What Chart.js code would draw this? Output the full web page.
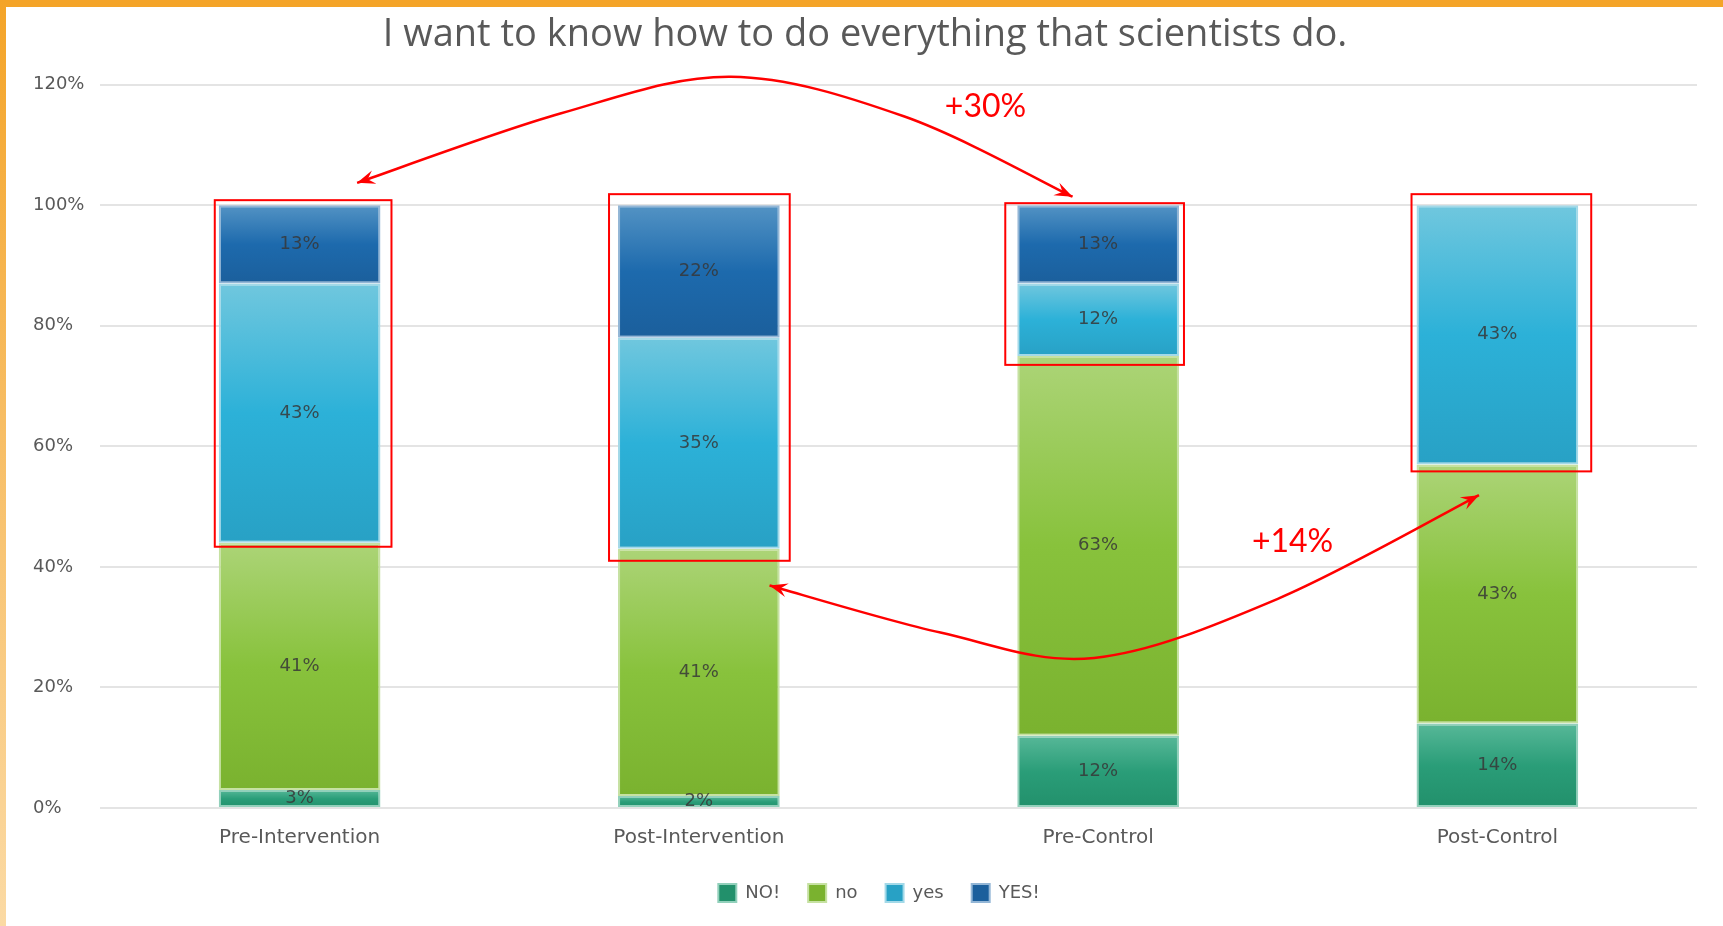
<!DOCTYPE html>
<html>
<head>
<meta charset="utf-8">
<title>Scientists survey</title>
<script src="https://cdn.jsdelivr.net/npm/chart.js@4.4.1/dist/chart.umd.min.js"></script>
<style>
  html, body { margin: 0; padding: 0; background: #fff; }
  #frame { position: relative; width: 1723px; height: 926px; overflow: hidden; background: #fff; }
  #frame .edge-top { position: absolute; left: 0; top: 0; width: 1723px; height: 7px; background: #f4a428; }
  #frame .edge-left { position: absolute; left: 0; top: 0; width: 6px; height: 926px; background: linear-gradient(#f4a428, #f7bd63 45%, #fbdaa4); }
  #chartBox { position: absolute; left: 6px; top: 7px; width: 1717px; height: 919px; }
</style>
</head>
<body>
<div id="frame">
  <div class="edge-top"></div>
  <div class="edge-left"></div>
  <div id="chartBox"><canvas id="scienceChart"></canvas></div>
</div>
<script>
const categories = ['Pre-Intervention', 'Post-Intervention', 'Pre-Control', 'Post-Control'];
const seriesNames = ['NO!', 'no', 'yes', 'YES!'];
const strongNo = [3, 2, 12, 14];
const weakNo = [41, 41, 63, 43];
const weakYes = [43, 35, 12, 43];
const strongYes = [13, 22, 13, 0];
const yTickValues = [0, 20, 40, 60, 80, 100, 120];

// arrows between bars, as [category position, percent] pairs
const arrowUpper = [[0.144, 103.7], [0.653, 115.2], [1.080, 121.3], [1.515, 114.7], [1.936, 101.4]];
const arrowLower = [[1.177, 36.9], [1.605, 29.1], [1.990, 24.9], [2.450, 34.7], [2.954, 51.9]];
const changeLabels = [
    { text: '+30%', at: [1.718, 116.3] },
    { text: '+14%', at: [2.487, 44.2] }
];

// hand-drawn boxes: extra room left, right, top, bottom (px)
const boxMargins = [[4, 11, 5, 4], [9, 10, 11, 12], [12, 5, 2, 9], [5, 13, 11, 7]];

// light / mid / dark shades per series, plus the pale edge colour
const shades = [
    ['#57b898', '#2a9d78', '#22906b'],
    ['#acd477', '#88c23c', '#7ab22f'],
    ['#70c7de', '#2cb1d8', '#28a1c5'],
    ['#5393c4', '#1d6aad', '#1b5f9c']
];
const edges = ['#92d0bb', '#c6e1a2', '#a3d9e8', '#93b6d6'];

function segmentFill(seriesIndex) {
    const s = shades[seriesIndex];
    return function(context) {
        const chart = context.chart;
        const yScale = chart.scales.y;
        if (context.dataIndex === undefined || !chart.chartArea || !yScale) {
            return s[1];
        }
        let base = 0;
        for (let k = 0; k < context.datasetIndex; k++) {
            base += chart.data.datasets[k].data[context.dataIndex];
        }
        const value = chart.data.datasets[context.datasetIndex].data[context.dataIndex];
        const top = yScale.getPixelForValue(base + value);
        const bottom = yScale.getPixelForValue(base);
        if (!isFinite(top) || !isFinite(bottom) || top === bottom) return s[1];
        const g = chart.ctx.createLinearGradient(0, top, 0, bottom);
        g.addColorStop(0, s[0]);
        g.addColorStop(0.5, s[1]);
        g.addColorStop(1, s[2]);
        return g;
    };
}

// percentage written in the middle of each segment
const segmentLabels = {
    id: 'segmentLabels',
    afterDatasetsDraw(chart) {
        const ctx = chart.ctx;
        ctx.save();
        ctx.font = '18px "DejaVu Sans"';
        ctx.fillStyle = 'rgba(55, 55, 55, 0.85)';
        ctx.textAlign = 'center';
        ctx.textBaseline = 'middle';
        chart.data.datasets.forEach((ds, d) => {
            chart.getDatasetMeta(d).data.forEach((bar, i) => {
                const v = ds.data[i];
                if (!v) return;
                ctx.fillText(v + '%', bar.x, (bar.y + bar.base) / 2);
            });
        });
        ctx.restore();
    }
};

// nudge the legend row a little to the right of centre
const legendShift = {
    id: 'legendShift',
    afterUpdate(chart) {
        const legend = chart.legend;
        if (!legend) return;
        legend.left += 14;
        legend.right += 14;
        legend.adjustHitBoxes();
    }
};

function arrowHead(ctx, tip, from) {
    const a = Math.atan2(tip.y - from.y, tip.x - from.x);
    const len = 18, wing = 7;
    ctx.save();
    ctx.translate(tip.x, tip.y);
    ctx.rotate(a);
    ctx.beginPath();
    ctx.moveTo(0, 0);
    ctx.lineTo(-len, -wing);
    ctx.lineTo(-len * 0.62, 0);
    ctx.lineTo(-len, wing);
    ctx.closePath();
    ctx.fill();
    ctx.restore();
}

// smooth curve through the points, arrow heads on both ends
function drawArrow(ctx, pts) {
    const controls = [];
    ctx.beginPath();
    ctx.moveTo(pts[0].x, pts[0].y);
    for (let i = 0; i < pts.length - 1; i++) {
        const p0 = pts[i - 1] || pts[i], p1 = pts[i], p2 = pts[i + 1], p3 = pts[i + 2] || p2;
        const c1 = { x: p1.x + (p2.x - p0.x) / 6, y: p1.y + (p2.y - p0.y) / 6 };
        const c2 = { x: p2.x - (p3.x - p1.x) / 6, y: p2.y - (p3.y - p1.y) / 6 };
        ctx.bezierCurveTo(c1.x, c1.y, c2.x, c2.y, p2.x, p2.y);
        controls.push([c1, c2]);
    }
    ctx.stroke();
    arrowHead(ctx, pts[0], controls[0][0]);
    arrowHead(ctx, pts[pts.length - 1], controls[controls.length - 1][1]);
}

const changeMarkers = {
    id: 'changeMarkers',
    afterDraw(chart) {
        const ctx = chart.ctx;
        const xs = chart.scales.x, ys = chart.scales.y;
        const toPx = p => ({ x: xs.getPixelForValue(p[0]), y: ys.getPixelForValue(p[1]) });
        ctx.save();
        ctx.strokeStyle = '#ff0000';
        ctx.fillStyle = '#ff0000';

        // boxes round the yes + YES! part of every bar
        ctx.lineWidth = 2;
        categories.forEach((c, i) => {
            const topBar = chart.getDatasetMeta(3).data[i];
            const yesBar = chart.getDatasetMeta(2).data[i];
            const m = boxMargins[i];
            const half = topBar.width / 2;
            const left = topBar.x - half - m[0];
            const right = topBar.x + half + m[1];
            const top = Math.min(topBar.y, yesBar.y) - m[2];
            const bottom = yesBar.base + m[3];
            ctx.strokeRect(left, top, right - left, bottom - top);
        });

        ctx.lineWidth = 2.5;
        drawArrow(ctx, arrowUpper.map(toPx));
        drawArrow(ctx, arrowLower.map(toPx));

        ctx.font = '32px Lato';
        ctx.textAlign = 'center';
        ctx.textBaseline = 'middle';
        changeLabels.forEach(l => {
            const p = toPx(l.at);
            ctx.fillText(l.text, p.x, p.y);
        });
        ctx.restore();
    }
};

document.addEventListener('DOMContentLoaded', function() {
    const values = [strongNo, weakNo, weakYes, strongYes];
    const ctx = document.getElementById('scienceChart').getContext('2d');
    const chart = new Chart(ctx, {
        type: 'bar',
        data: {
            labels: categories,
            datasets: seriesNames.map((name, i) => ({
                label: name,
                data: values[i],
                backgroundColor: segmentFill(i),
                borderColor: edges[i],
                borderWidth: 2,
                borderSkipped: false
            }))
        },
        options: {
            responsive: true,
            maintainAspectRatio: false,
            animation: false,
            layout: {
                padding: { left: 27, right: 26, top: 0, bottom: 14 }
            },
            datasets: {
                bar: { barPercentage: 0.405, categoryPercentage: 1 }
            },
            scales: {
                x: {
                    stacked: true,
                    grid: { display: false },
                    border: { display: false },
                    ticks: {
                        color: '#595959',
                        padding: 10,
                        font: { family: 'DejaVu Sans', size: 20 }
                    },
                    afterFit: function(scale) { scale.height = 48; }
                },
                y: {
                    stacked: true,
                    min: 0,
                    max: 120,
                    border: { display: false },
                    grid: { color: '#e4e4e4', lineWidth: 2, drawTicks: false },
                    ticks: {
                        crossAlign: 'far',
                        color: '#595959',
                        font: { family: 'DejaVu Sans', size: 18 },
                        callback: function(value) { return value + '%'; }
                    },
                    afterBuildTicks: function(scale) {
                        scale.ticks = yTickValues.map(v => ({ value: v }));
                    },
                    afterFit: function(scale) { scale.width = 67; }
                }
            },
            plugins: {
                title: {
                    display: true,
                    text: 'I want to know how to do everything that scientists do.',
                    color: '#595959',
                    font: { family: 'Open Sans', size: 38, weight: 'normal' },
                    padding: { top: 5, bottom: 27 }
                },
                legend: {
                    position: 'bottom',
                    labels: {
                        boxWidth: 18,
                        boxHeight: 18,
                        padding: 28,
                        color: '#595959',
                        font: { family: 'DejaVu Sans', size: 18 }
                    }
                },
                tooltip: { enabled: false }
            }
        },
        plugins: [segmentLabels, legendShift, changeMarkers]
    });
});
</script>
</body>
</html>
